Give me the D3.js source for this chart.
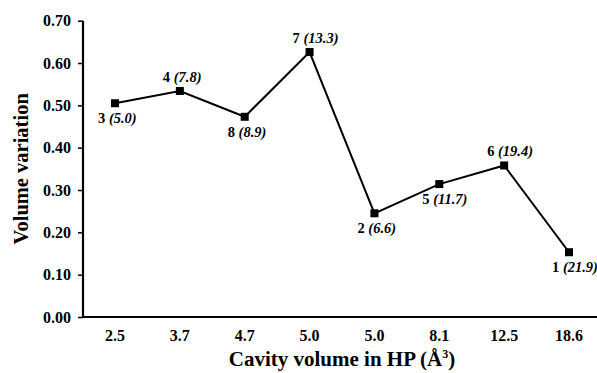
<!DOCTYPE html>
<html><head><meta charset="utf-8">
<script src="https://cdn.jsdelivr.net/npm/d3@7"></script>
<style>body{margin:0;background:#fff}svg{display:block}text{font-family:"Liberation Serif","Times New Roman",serif;font-weight:bold}</style>
</head><body><svg id="c" width="597" height="373"></svg>
<script>
const categories = ["2.5","3.7","4.7","5.0","5.0","8.1","12.5","18.6"];
const values = [0.505, 0.534, 0.473, 0.626, 0.245, 0.314, 0.358, 0.153];
const ids = ["3","4","8","7","2","5","6","1"];
const sizes = ["5.0","7.8","8.9","13.3","6.6","11.7","19.4","21.9"];
const above = [false, true, false, true, false, false, true, false];
const yTicks = [0,0.1,0.2,0.3,0.4,0.5,0.6,0.7];

const svg = d3.select("#c");
const x = d3.scalePoint().domain(d3.range(categories.length)).range([115, 569]);
const y = d3.scaleLinear().domain([0,0.7]).range([317, 20.7]);

// axes
const yAx = svg.append("g").attr("transform","translate(83,0)")
  .call(d3.axisLeft(y).tickValues(yTicks).tickFormat(d3.format(".2f")).tickSize(5).tickSizeOuter(0));
yAx.select(".domain").attr("stroke","#000").attr("stroke-width",2.2).attr("d","M0,"+y(0.7)+"V"+y(0));
yAx.selectAll(".tick line").attr("stroke-width",1.5);
yAx.selectAll(".tick text").attr("font-size",16).attr("x",-12).attr("fill","#000");

svg.append("line").attr("x1",82).attr("x2",597).attr("y1",y(0)).attr("y2",y(0)).attr("stroke","#000").attr("stroke-width",2.2);
svg.append("g").selectAll("text").data(categories).join("text")
  .attr("x",(d,i)=>x(i)).attr("y",341).attr("text-anchor","middle").attr("font-size",16).text(d=>d);

// line
const pts = values.map((v,i)=>[x(i), y(v)]);
svg.append("path").attr("d", d3.line()(pts)).attr("fill","none").attr("stroke","#000").attr("stroke-width",2);
svg.append("g").selectAll("rect").data(values).join("rect")
  .attr("x",(d,i)=>x(i)-4).attr("y",d=>y(d)-4).attr("width",8).attr("height",8).attr("fill","#000");

// labels
const lab = svg.append("g").selectAll("text").data(values).join("text")
  .attr("x",(d,i)=>x(i)-17).attr("y",(d,i)=>above[i] ? y(d)-9 : y(d)+20)
  .attr("font-size",14.5);
lab.append("tspan").text((d,i)=>ids[i]+" ");
lab.append("tspan").attr("font-style","italic").text((d,i)=>"("+sizes[i]+")");

// titles
svg.append("text").attr("transform","translate(28,"+((y(0)+y(0.7))/2)+") rotate(-90)")
  .attr("text-anchor","middle").attr("font-size",20.5).text("Volume variation");
const xt = svg.append("text").attr("x",342).attr("y",366).attr("text-anchor","middle").attr("font-size",21);
xt.append("tspan").text("Cavity volume in HP (Å");
xt.append("tspan").attr("font-size",12).attr("dy",-8).text("3");
xt.append("tspan").attr("dy",8).text(")");
</script></body></html>
